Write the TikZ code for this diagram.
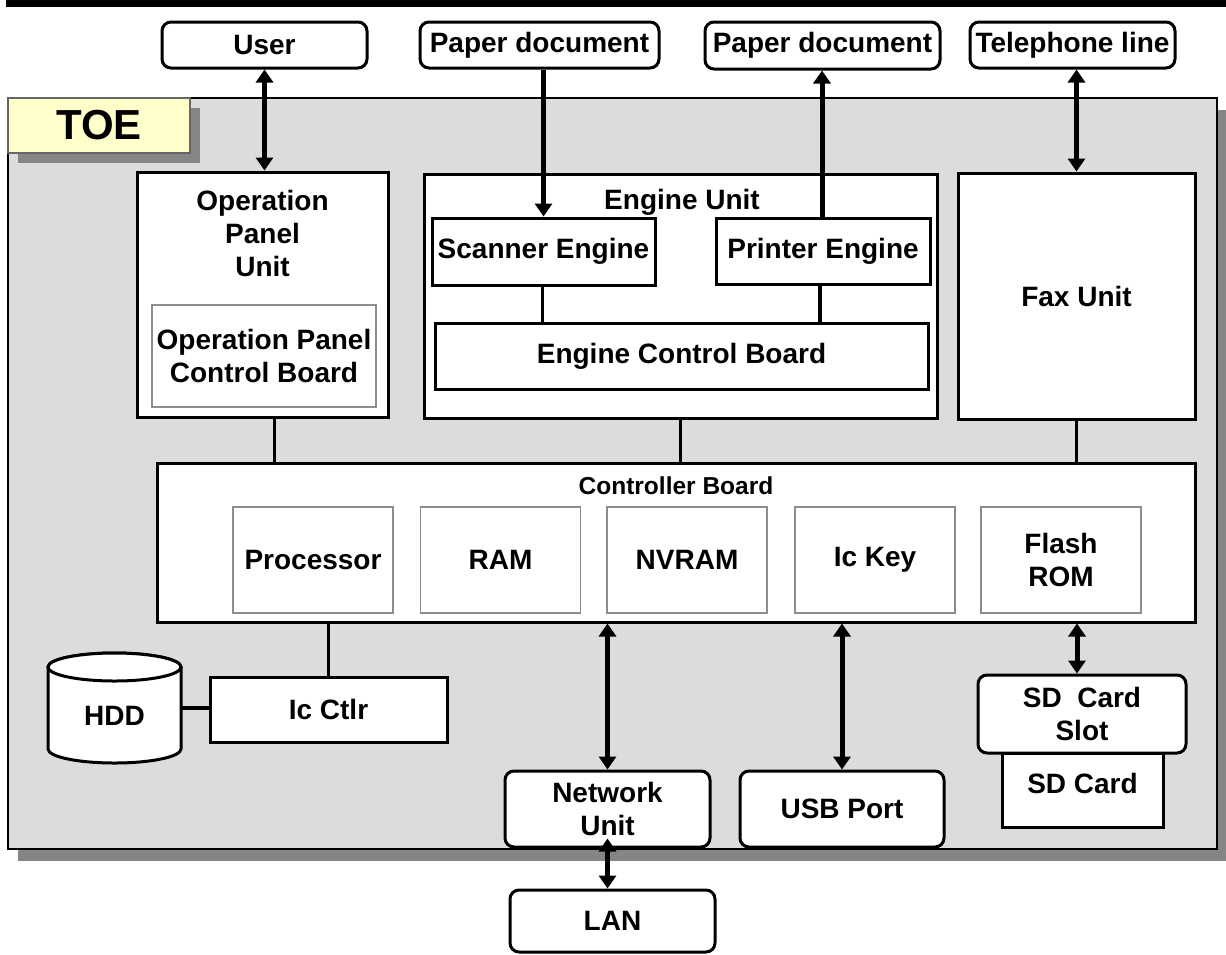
\documentclass[tikz,border=0pt]{standalone}
\usepackage{fontspec}
\setmainfont{Liberation Sans}
\usetikzlibrary{arrows.meta}
\definecolor{toegray}{HTML}{DCDCDC}
\definecolor{shadowgray}{HTML}{858585}
\definecolor{toeyellow}{HTML}{FFFFCC}
\definecolor{chipgray}{HTML}{8C8C8C}
\newcommand\lblfont{\fontsize{28}{33}\selectfont\bfseries}
\newcommand\smallfont{\fontsize{24.5}{28}\selectfont\bfseries}
\newcommand\bigfont{\fontsize{42}{42}\selectfont\bfseries}
\begin{document}
\begin{tikzpicture}[x=1pt,y=1pt,
  box/.style={draw, line width=3, fill=white, inner sep=0, align=center, font=\lblfont},
  rbox/.style={box, rounded corners=9},
  chip/.style={draw=chipgray, line width=1.2, fill=white, minimum width=160, minimum height=106, inner sep=0, align=center, font=\lblfont},
  txt/.style={inner sep=0, align=center, font=\lblfont},
  link/.style={line width=3.5},
  tip/.tip={Triangle[width=17pt,length=13pt]},
  biarrow/.style={line width=5, {tip}-{tip}},
  onearrow/.style={line width=5, -{tip}}
]
\useasboundingbox (0,0) rectangle (1226,-954);
% top bar
\fill[black] (6,0) rectangle (1226,-7);
% TOE container
\fill[shadowgray] (18,-110) rectangle (1227,-861);
\node[draw, line width=2.5, fill=toegray, minimum width=1209, minimum height=751, inner sep=0] (toe) at (612.5,-473.5) {};
\fill[shadowgray] (18,-108) rectangle (200,-163);
\node[draw=black!60, line width=1.2, fill=toeyellow, minimum width=182, minimum height=55, inner sep=0, font=\bigfont] (toelbl) at (99,-125.5) {TOE};

% external entities
\node[rbox, minimum width=205, minimum height=46] (user) at (264.5,-45) {User};
\node[rbox, minimum width=239, minimum height=46] (pdin) at (539.5,-45) {Paper document};
\node[rbox, minimum width=235, minimum height=47] (pdout) at (822.5,-45.5) {Paper document};
\node[rbox, minimum width=205, minimum height=46] (tel) at (1072.5,-45) {Telephone line};

% operation panel
\node[box, minimum width=251, minimum height=245] (opu) at (262.5,-294.5) {};
\node[txt] (opulbl) at (262.5,-233) {Operation\\Panel\\Unit};
\node[draw=chipgray, line width=1.5, fill=white, minimum width=224, minimum height=102, inner sep=0, align=center, font=\lblfont] (opcb) at (264,-356) {Operation Panel\\Control Board};

% engine unit
\node[box, minimum width=513, minimum height=244] (engine) at (680.5,-296) {};
\node[txt] (englbl) at (682,-202) {Engine Unit};
\node[box, minimum width=223, minimum height=67] (scanner) at (543.5,-251.5) {Scanner Engine};
\node[box, minimum width=214, minimum height=66] (printer) at (823,-251) {Printer Engine};
\node[box, minimum width=493, minimum height=66] (ecb) at (681.5,-356) {Engine Control Board};

% fax unit
\node[box, minimum width=237, minimum height=246] (fax) at (1076.5,-296) {Fax Unit};

% controller board
\node[box, minimum width=1038, minimum height=159] (ctrl) at (676,-542.5) {};
\node[inner sep=0, font=\smallfont] (ctrllbl) at (676,-486) {Controller Board};
\node[chip] (proc) at (313,-560) {Processor};
\node[chip] (ram) at (500.5,-560) {RAM};
\node[chip] (nvram) at (687,-560) {NVRAM};
\node[chip] (ickey) at (875,-560) {Ic Key};
\node[chip] (flash) at (1061,-560) {Flash\\ROM};

% HDD and Ic Ctlr
\node[box, minimum width=237, minimum height=65] (icctlr) at (328.5,-709.5) {Ic Ctlr};
\node[minimum width=133, minimum height=110, inner sep=0] (hdd) at (114.5,-708) {};
\draw[line width=3, fill=white] (48,-667) -- (48,-749)
  arc[start angle=180, end angle=360, x radius=66.5, y radius=14] -- (181,-667)
  arc[start angle=0, end angle=180, x radius=66.5, y radius=14] -- cycle;
\draw[line width=3, fill=white] (114.5,-667) ellipse[x radius=66.5, y radius=14];
\node[txt] (hddlbl) at (114.5,-716) {HDD};

% SD card
\node[box, minimum width=161, minimum height=74] (sdcard) at (1082.5,-790) {};
\node[txt] (sdcardlbl) at (1082.5,-783) {SD Card};
\node[rbox, minimum width=208, minimum height=78] (sdslot) at (1082,-714) {SD\ \ Card\\Slot};

% network, usb, lan
\node[rbox, minimum width=205, minimum height=76] (network) at (607.5,-809) {Network\\Unit};
\node[rbox, minimum width=204, minimum height=76] (usb) at (842,-809) {USB Port};
\node[rbox, minimum width=205, minimum height=62] (lan) at (612.5,-921) {LAN};

% connectors
\draw[biarrow] (user.south) -- (user.south |- opu.north);
\draw[onearrow] (scanner.north |- pdin.south) -- (scanner.north);
\draw[onearrow] ([xshift=-1]printer.north) -- ([xshift=-1]printer.north |- pdout.south);
\draw[biarrow] ([xshift=4]tel.south) -- ([xshift=4]tel.south |- fax.north);

\draw[link] ([xshift=12]opu.south) -- ([xshift=12]opu.south |- ctrl.north);
\draw[link] (engine.south) -- (engine.south |- ctrl.north);
\draw[link] (fax.south) -- (fax.south |- ctrl.north);
\draw[link] ([xshift=-1]scanner.south) -- ([xshift=-1]scanner.south |- ecb.north);
\draw[link] ([xshift=-3]printer.south) -- ([xshift=-3]printer.south |- ecb.north);
\draw[link] (icctlr.north) -- (icctlr.north |- ctrl.south);
\draw[link] (hdd.east) -- (hdd.east -| icctlr.west);

\draw[biarrow] (network.north |- ctrl.south) -- (network.north);
\draw[biarrow] (usb.north |- ctrl.south) -- (usb.north);
\draw[biarrow] ([xshift=-5]sdslot.north |- ctrl.south) -- ([xshift=-5]sdslot.north);
\coordinate (netlow) at ([yshift=10]network.south);
\draw[biarrow] (netlow) -- (netlow |- lan.north);
\end{tikzpicture}
\end{document}
